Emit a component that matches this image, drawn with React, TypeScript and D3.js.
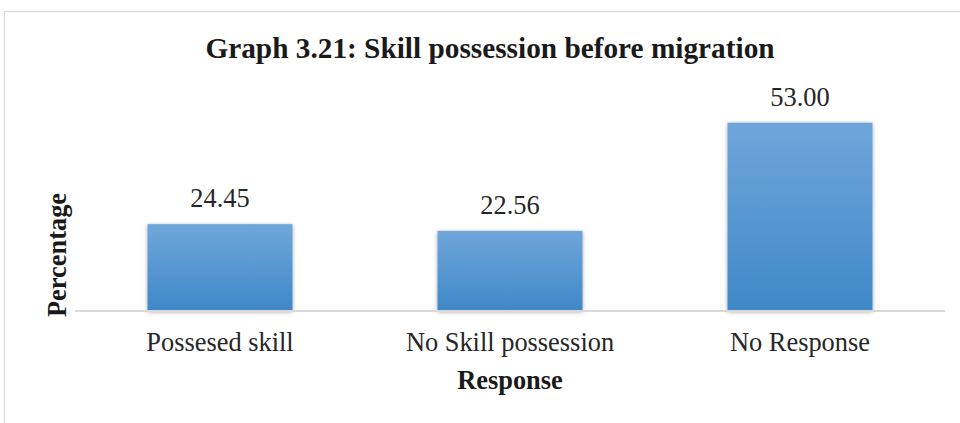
import React from "react";
import * as d3 from "d3";

const categories = ["Possesed skill", "No Skill possession", "No Response"];
const values = [24.45, 22.56, 53.0];
const yDomain = [0, 60];

const W = 960;
const H = 423;

export default function App() {
  const x = d3
    .scaleBand<string>()
    .domain(categories)
    .range([75, 945])
    .paddingInner(0.5)
    .paddingOuter(0.25);
  const y = d3.scaleLinear().domain(yDomain).range([311, 311 - 60 * 3.553]);
  const serif = "'Liberation Serif', 'Times New Roman', serif";

  return (
    <svg
      width={W}
      height={H}
      style={{ position: "absolute", left: 0, top: 0, background: "#fff" }}
    >
      <defs>
        <linearGradient id="barGrad" x1="0" y1="0" x2="0" y2="1">
          <stop offset="0%" stopColor="#70A6DA" />
          <stop offset="100%" stopColor="#3F88C8" />
        </linearGradient>
        <filter id="shadow" x="-10%" y="-10%" width="120%" height="120%">
          <feGaussianBlur in="SourceAlpha" stdDeviation="2" />
          <feOffset dx="0" dy="1" result="b" />
          <feComponentTransfer>
            <feFuncA type="linear" slope="0.35" />
          </feComponentTransfer>
          <feMerge>
            <feMergeNode />
            <feMergeNode in="SourceGraphic" />
          </feMerge>
        </filter>
      </defs>
      <rect
        x={4.5}
        y={11.5}
        width={W + 10}
        height={H + 10}
        fill="#fff"
        stroke="#D9D9D9"
        strokeWidth={1.2}
      />
      <text
        x={490}
        y={58}
        textAnchor="middle"
        fontFamily={serif}
        fontWeight="bold"
        fontSize={29.3}
        fill="#1a1a1a"
      >
        Graph 3.21: Skill possession before migration
      </text>
      {categories.map((c, i) => (
        <rect
          key={c}
          x={x(c)!}
          y={y(values[i])}
          width={x.bandwidth()}
          height={y(0) - y(values[i])}
          fill="url(#barGrad)"
          filter="url(#shadow)"
        />
      ))}
      <line x1={75} x2={945} y1={311} y2={311} stroke="#D9D9D9" strokeWidth={2} />
      {categories.map((c, i) => (
        <text
          key={"v" + c}
          x={x(c)! + x.bandwidth() / 2}
          y={y(values[i]) - 17}
          textAnchor="middle"
          fontFamily={serif}
          fontSize={26.4}
          fill="#262626"
        >
          {values[i].toFixed(2)}
        </text>
      ))}
      {categories.map((c) => (
        <text
          key={"c" + c}
          x={x(c)! + x.bandwidth() / 2}
          y={351}
          textAnchor="middle"
          fontFamily={serif}
          fontSize={26.4}
          fill="#262626"
        >
          {c}
        </text>
      ))}
      <text
        x={510}
        y={389}
        textAnchor="middle"
        fontFamily={serif}
        fontWeight="bold"
        fontSize={26.4}
        fill="#1a1a1a"
      >
        Response
      </text>
      <text
        transform={`translate(66,255) rotate(-90)`}
        textAnchor="middle"
        fontFamily={serif}
        fontWeight="bold"
        fontSize={26.4}
        fill="#1a1a1a"
      >
        Percentage
      </text>
    </svg>
  );
}
